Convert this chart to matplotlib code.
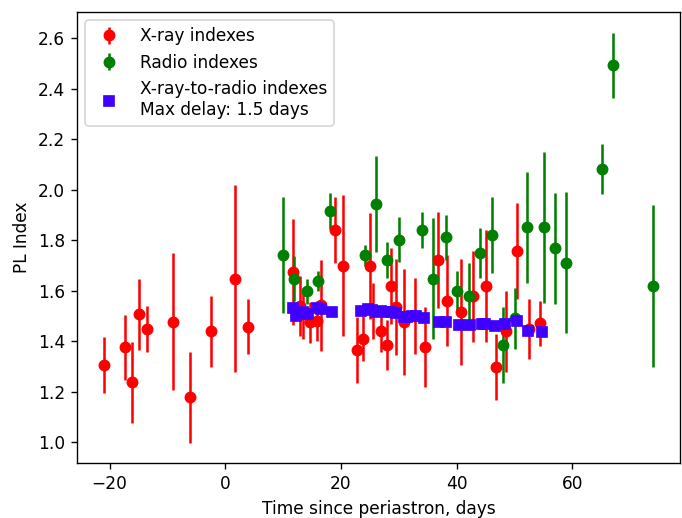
import matplotlib
matplotlib.use("Agg")
import matplotlib.pyplot as plt

# X-ray indexes
xray_t = [-20.9, -17.3, -16.1, -15.0, -13.5, -9.1, -6.1, -2.4, 1.7, 4.0,
          11.7, 12.9, 13.5, 14.6, 15.9, 16.5, 18.9, 20.3, 22.8, 23.8,
          25.1, 25.5, 26.9, 28.0, 28.6, 29.6, 30.9, 32.8, 34.6, 36.75,
          38.35, 40.8, 42.9, 45.1, 46.8, 48.5, 50.5, 52.5, 54.5]
xray_idx = [1.307, 1.376, 1.238, 1.507, 1.449, 1.478, 1.179, 1.439, 1.648, 1.458,
            1.674, 1.54, 1.51, 1.475, 1.48, 1.543, 1.841, 1.70, 1.366, 1.41,
            1.70, 1.52, 1.439, 1.386, 1.618, 1.537, 1.478, 1.50, 1.377, 1.723,
            1.560, 1.517, 1.579, 1.619, 1.298, 1.439, 1.759, 1.449, 1.471]
xray_err = [0.11, 0.13, 0.16, 0.14, 0.09, 0.27, 0.18, 0.14, 0.37, 0.11,
            0.21, 0.12, 0.10, 0.08, 0.08, 0.18, 0.13, 0.28, 0.13, 0.09,
            0.21, 0.11, 0.08, 0.10, 0.15, 0.19, 0.21, 0.15, 0.16, 0.19,
            0.18, 0.21, 0.18, 0.22, 0.13, 0.16, 0.19, 0.12, 0.09]

# Radio indexes
radio_t = [10.0, 11.9, 14.15, 16.0, 18.05, 24.2, 26.0, 28.05, 30.06, 34.06,
           35.9, 38.1, 40.07, 42.1, 44.07, 46.2, 48.1, 50.1, 52.1, 55.2,
           57.1, 58.95, 65.1, 66.97, 73.9]
radio_idx = [1.74, 1.648, 1.598, 1.638, 1.916, 1.74, 1.943, 1.722, 1.802, 1.841,
             1.648, 1.812, 1.598, 1.580, 1.749, 1.822, 1.386, 1.491, 1.851, 1.851,
             1.769, 1.711, 2.083, 2.493, 1.619]
radio_err = [0.23, 0.09, 0.05, 0.04, 0.07, 0.04, 0.19, 0.07, 0.09, 0.07,
             0.24, 0.09, 0.08, 0.13, 0.10, 0.15, 0.15, 0.12, 0.22, 0.30,
             0.22, 0.28, 0.10, 0.13, 0.32]

# X-ray-to-radio indexes
x2r_t = [11.7, 12.3, 13.45, 14.3, 15.9, 16.6, 18.4, 23.5, 24.6, 25.4,
         26.0, 27.0, 28.0, 28.6, 29.5, 30.9, 31.5, 32.3, 32.9, 34.35,
         36.9, 38.1, 40.4, 42.4, 44.4, 44.9, 46.6, 48.4, 50.4, 52.4, 54.8]
x2r_idx = [1.533, 1.502, 1.517, 1.507, 1.530, 1.527, 1.517, 1.52, 1.527, 1.523,
           1.517, 1.52, 1.517, 1.515, 1.51, 1.498, 1.495, 1.50, 1.502, 1.494,
           1.478, 1.475, 1.465, 1.465, 1.469, 1.469, 1.462, 1.469, 1.48, 1.441, 1.436]

DPI = 122
fig = plt.figure(figsize=(682 / DPI, 518 / DPI), dpi=DPI)
ax = fig.add_axes([77/682, 1 - 463/518, (680 - 77)/682, (463 - 12)/518])

h1 = ax.errorbar(xray_t, xray_idx, yerr=xray_err, fmt='o', color='red',
                 label='X-ray indexes')
h2 = ax.errorbar(radio_t, radio_idx, yerr=radio_err, fmt='o', color='green',
                 label='Radio indexes')
h3, = ax.plot(x2r_t, x2r_idx, 's', color='#4000ff', linestyle='none',
              zorder=3, label='X-ray-to-radio indexes\nMax delay: 1.5 days')

ax.set_xlabel('Time since periastron, days')
ax.set_ylabel('PL Index')
ax.legend(handles=[h1, h2, h3], loc='upper left')

fig.savefig('out.png', dpi=DPI)
